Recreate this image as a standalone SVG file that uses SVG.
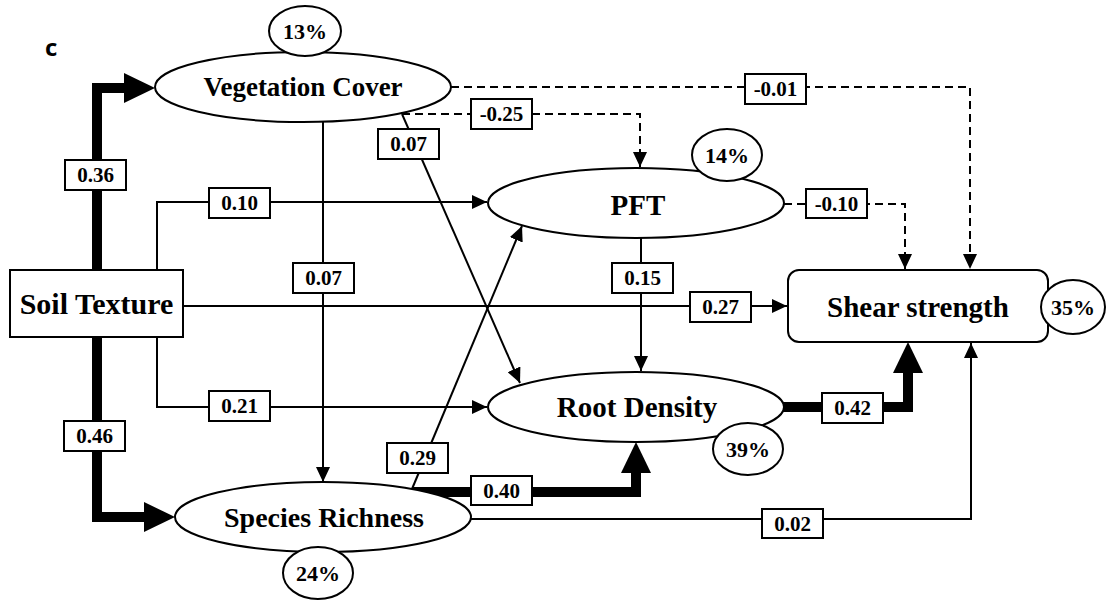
<svg xmlns="http://www.w3.org/2000/svg" width="1108" height="601" viewBox="0 0 1108 601">
  <style>
    .shape { fill: #fff; stroke: #000; stroke-width: 2; }
    .r2 { fill: #fff; stroke: #000; stroke-width: 2; }
    .edge { fill: none; stroke: #000; stroke-width: 2; }
    .dash { stroke-dasharray: 8 5; }
    .thick { fill: none; stroke: #000; stroke-width: 10; stroke-linejoin: miter; }
    .head { fill: #000; stroke: none; }
    .lbl rect { fill: #fff; stroke: #000; stroke-width: 2; }
    text { font-family: "Liberation Serif", "Times New Roman", serif; font-weight: bold; fill: #000; text-anchor: middle; }
    .coef { font-size: 21px; }
    .pct { font-size: 22px; }
    .big { font-size: 29px; }
    .panel { font-family: "Open Sans", "Liberation Sans", Arial, sans-serif; font-size: 24px; text-anchor: start; }
  </style>
  <defs>
    <marker id="arrow" viewBox="0 0 15 14" refX="15" refY="7" markerWidth="15" markerHeight="14" markerUnits="userSpaceOnUse" orient="auto">
      <path d="M0,0 L15,7 L0,14 z" fill="#000"/>
    </marker>
  </defs>

  <rect width="1108" height="601" fill="#fff"/>

  <text class="panel" x="45" y="56">c</text>

  <!-- path coefficients -->
  <g id="connectors">
    <!-- Soil Texture -> Vegetation Cover -->
    <polyline class="thick" points="97,270 97,88 126,88"/>
    <polygon class="head" points="124,73 155,88 124,103"/>
    <!-- Soil Texture -> Species Richness -->
    <polyline class="thick" points="97,337 97,517 146,517"/>
    <polygon class="head" points="144,502 175,517 144,532"/>
    <!-- Soil Texture -> PFT -->
    <path class="edge" d="M157,270 V202 H487" marker-end="url(#arrow)"/>
    <!-- Soil Texture -> Root Density -->
    <path class="edge" d="M157,337 V407 H487" marker-end="url(#arrow)"/>
    <!-- Soil Texture -> Shear strength -->
    <path class="edge" d="M183,306 H787" marker-end="url(#arrow)"/>
    <!-- Vegetation Cover -> Species Richness -->
    <path class="edge" d="M323,122 V482" marker-end="url(#arrow)"/>
    <!-- Vegetation Cover -> Root Density -->
    <path class="edge" d="M402,114 L520,383" marker-end="url(#arrow)"/>
    <!-- Vegetation Cover -> PFT -->
    <path class="edge dash" d="M402,114 H640 V167" marker-end="url(#arrow)"/>
    <!-- Vegetation Cover -> Shear strength -->
    <path class="edge dash" d="M451,87 H970 V269" marker-end="url(#arrow)"/>
    <!-- PFT -> Root Density -->
    <path class="edge" d="M641,238 V371" marker-end="url(#arrow)"/>
    <!-- PFT -> Shear strength -->
    <path class="edge dash" d="M784,204 H905 V269" marker-end="url(#arrow)"/>
    <!-- Species Richness -> PFT -->
    <path class="edge" d="M412,489 L522,226" marker-end="url(#arrow)"/>
    <!-- Species Richness -> Root Density -->
    <polyline class="thick" points="413,492 636,492 636,471"/>
    <polygon class="head" points="621,473 636,442 651,473"/>
    <!-- Root Density -> Shear strength -->
    <polyline class="thick" points="783,407 908,407 908,371"/>
    <polygon class="head" points="893,373 908,342 923,373"/>
    <!-- Species Richness -> Shear strength -->
    <path class="edge" d="M471,519 H971 V343" marker-end="url(#arrow)"/>

    <g class="lbl">
      <rect x="65" y="160" width="61" height="30"/><text class="coef" x="95.5" y="182">0.36</text>
      <rect x="64" y="421" width="61" height="30"/><text class="coef" x="94.5" y="443">0.46</text>
      <rect x="209" y="188" width="61" height="30"/><text class="coef" x="239.5" y="210">0.10</text>
      <rect x="209" y="391" width="61" height="30"/><text class="coef" x="239.5" y="413">0.21</text>
      <rect x="690" y="292" width="61" height="30"/><text class="coef" x="720.5" y="314">0.27</text>
      <rect x="293" y="263" width="61" height="30"/><text class="coef" x="323.5" y="285">0.07</text>
      <rect x="378" y="129" width="61" height="30"/><text class="coef" x="408.5" y="151">0.07</text>
      <rect x="471" y="99" width="61" height="30"/><text class="coef" x="501.5" y="121">-0.25</text>
      <rect x="745" y="74" width="61" height="30"/><text class="coef" x="775.5" y="96">-0.01</text>
      <rect x="612" y="263" width="61" height="30"/><text class="coef" x="642.5" y="285">0.15</text>
      <rect x="806" y="189" width="61" height="29"/><text class="coef" x="836.5" y="211">-0.10</text>
      <rect x="387" y="443" width="61" height="30"/><text class="coef" x="417.5" y="465">0.29</text>
      <rect x="471" y="476" width="61" height="29"/><text class="coef" x="501.5" y="498">0.40</text>
      <rect x="822" y="393" width="61" height="30"/><text class="coef" x="852.5" y="415">0.42</text>
      <rect x="762" y="509" width="61" height="29"/><text class="coef" x="792.5" y="531">0.02</text>
    </g>
  </g>

  <g id="node-soil-texture">
    <rect class="shape" x="10" y="270" width="173" height="67"/>
    <text x="96.5" y="314" font-size="30">Soil Texture</text>
  </g>

  <g id="node-vegetation-cover">
    <ellipse class="shape" cx="303" cy="87" rx="148" ry="35"/>
    <text x="303" y="96" font-size="27">Vegetation Cover</text>
    <ellipse class="r2" cx="305" cy="31" rx="36" ry="25"/>
    <text class="pct" x="305" y="39">13%</text>
  </g>

  <g id="node-pft">
    <ellipse class="shape" cx="636" cy="203" rx="148" ry="35"/>
    <text class="big" x="638" y="215">PFT</text>
    <ellipse class="r2" cx="727" cy="155" rx="35" ry="26"/>
    <text class="pct" x="727" y="163">14%</text>
  </g>

  <g id="node-root-density">
    <ellipse class="shape" cx="636" cy="407" rx="148" ry="35"/>
    <text class="big" x="637" y="417">Root Density</text>
    <ellipse class="r2" cx="748" cy="449" rx="35" ry="26"/>
    <text class="pct" x="748" y="457">39%</text>
  </g>

  <g id="node-species-richness">
    <ellipse class="shape" cx="323" cy="517" rx="148" ry="35"/>
    <text x="324" y="527" font-size="28">Species Richness</text>
    <ellipse class="r2" cx="318" cy="573" rx="35" ry="26"/>
    <text class="pct" x="318" y="581">24%</text>
  </g>

  <g id="node-shear-strength">
    <rect class="shape" x="788" y="270" width="260" height="72" rx="11" ry="11"/>
    <text class="big" x="918" y="317">Shear strength</text>
    <ellipse class="r2" cx="1073" cy="307" rx="32" ry="27"/>
    <text class="pct" x="1073" y="315">35%</text>
  </g>
</svg>
